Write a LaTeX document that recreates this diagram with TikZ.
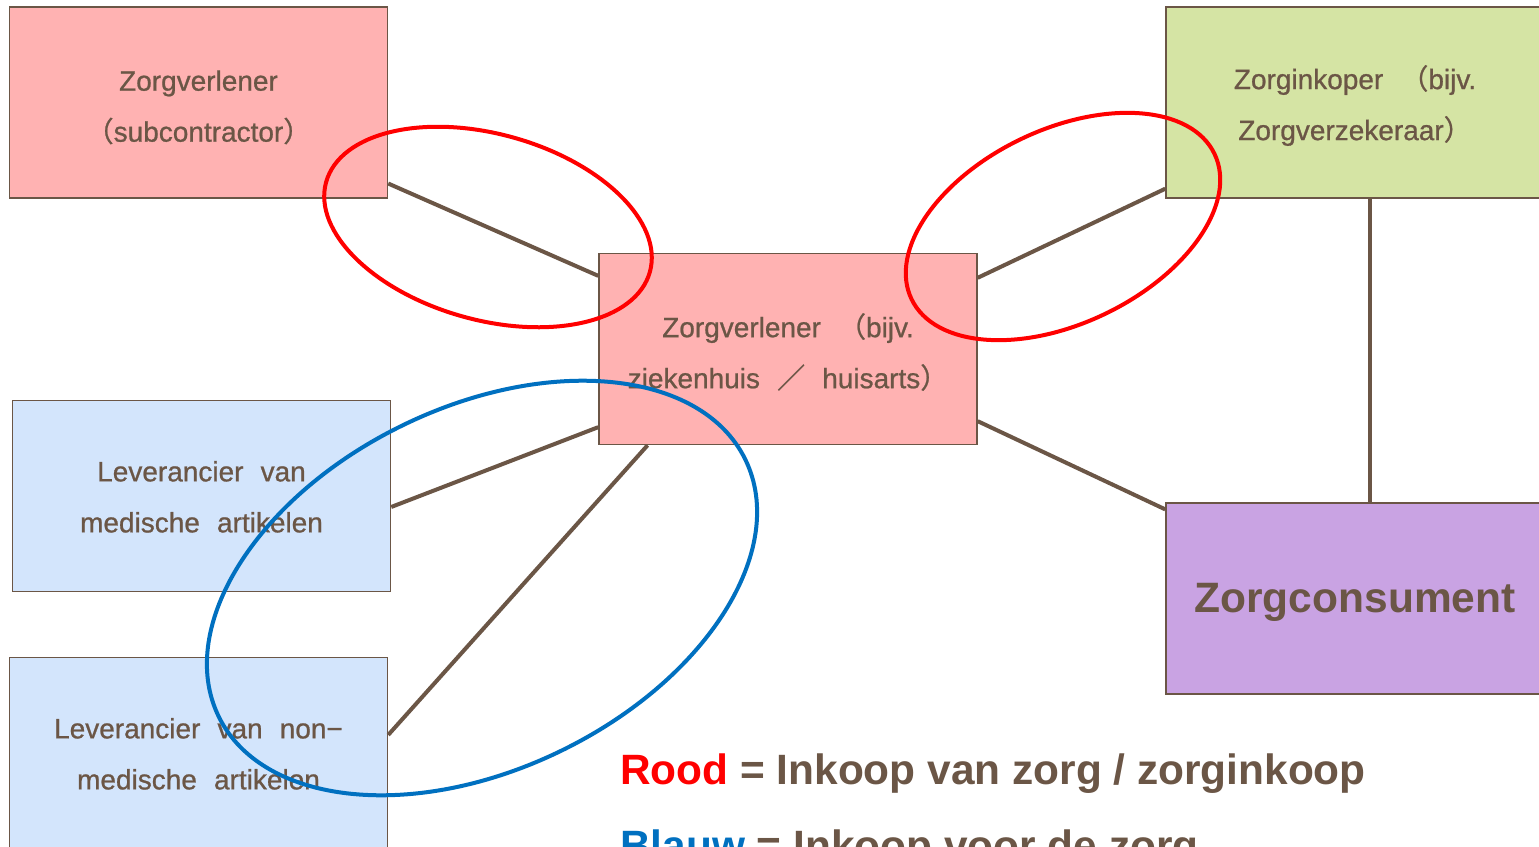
\documentclass[tikz,border=0pt]{standalone}
\usepackage{fontspec}
\setmainfont{Liberation Sans}
\newfontfamily\cjk[FakeBold=0.8]{Noto Sans CJK SC}
\newfontfamily\boxfont[WordSpace=2.2,FakeBold=0.8]{Liberation Sans}
\usetikzlibrary{calc}
\definecolor{brn}{HTML}{6B5646}
\definecolor{pinkc}{HTML}{FFB2B2}
\definecolor{greenc}{HTML}{D5E4A4}
\definecolor{bluec}{HTML}{D3E5FC}
\definecolor{purplec}{HTML}{C9A3E3}
\definecolor{ringred}{HTML}{FF0000}
\definecolor{ringblue}{HTML}{0070C0}
\newcommand{\tstrut}{\rule{0pt}{30pt}}
\newcommand{\sstrut}{\rule{0pt}{22pt}}
\tikzset{
  box/.style={draw=brn, line width=1.5pt, minimum width=378pt, minimum height=191pt,
    inner sep=0pt, align=center, text=brn, font=\boxfont\fontsize{28pt}{51pt}\selectfont},
  conn/.style={draw=brn, line width=4pt},
  ring/.style={line width=4pt},
  legend/.style={anchor=base west, inner sep=0pt, text=brn,
    font=\bfseries\fontsize{42.4pt}{42.4pt}\selectfont}
}
\begin{document}
\begin{tikzpicture}[x=1pt,y=-1pt]
\useasboundingbox (0,0) rectangle (1539,846);
\clip (0,0) rectangle (1539,846);
\fill[white] (0,0) rectangle (1539,846);

\node[box, fill=pinkc] (sub) at (198.5,102.5) {\tstrut Zorgverlener\\{\cjk（}subcontractor{\cjk）}};
\node[box, fill=pinkc] (cen) at (788,349) {\tstrut Zorgverlener {\cjk（}bijv.\\ziekenhuis {\cjk／} huisarts{\cjk）}};
\node[box, fill=greenc] (ink) at (1355,102.5) {\tstrut Zorginkoper {\cjk（}bijv.\\Zorgverzekeraar{\cjk）}};
\node[box, fill=bluec] (med) at (201.5,496) {\sstrut Leverancier van\\medische artikelen};
\node[box, fill=bluec] (nonmed) at (198.5,753) {\sstrut Leverancier van non−\\medische artikelen};
\node[box, fill=purplec, font=\bfseries\fontsize{42.5pt}{42.5pt}\selectfont] (cons) at (1355,598.5) {\rule{0pt}{37pt}Zorgconsument};

\draw[conn] ($(sub.south east)!0.079!(sub.north east)$) -- ($(cen.north west)!0.12!(cen.south west)$);
\draw[conn] ($(cen.north east)!0.13!(cen.south east)$) -- ($(ink.north west)!0.948!(ink.south west)$);
\draw[conn] ($(cen.north west)!0.906!(cen.south west)$) -- ($(med.north east)!0.557!(med.south east)$);
\draw[conn] ($(cen.south west)!0.13!(cen.south east)$) -- ($(nonmed.north east)!0.406!(nonmed.south east)$);
\draw[conn] ($(cen.north east)!0.875!(cen.south east)$) -- ($(cons.north west)!0.037!(cons.south west)$);
\draw[conn] ($(ink.south west)!0.54!(ink.south east)$) -- ($(cons.north west)!0.54!(cons.north east)$);

\draw[ring, ringred, rotate around={-15.5:(488,227)}] (488,227) ellipse [x radius=168pt, y radius=93pt];
\draw[ring, ringred, rotate around={25.6:(1063,226.5)}] (1063,226.5) ellipse [x radius=168pt, y radius=97pt];
\draw[ring, ringblue, rotate around={26:(482,588)}] (482,588) ellipse [x radius=293pt, y radius=181pt];

\node[legend] (leg1) at (620,784) {\textcolor{ringred}{Rood} = Inkoop van zorg / zorginkoop};
\node[legend] (leg2) at (620,860) {\textcolor{ringblue}{Blauw} = Inkoop voor de zorg};
\end{tikzpicture}
\end{document}
